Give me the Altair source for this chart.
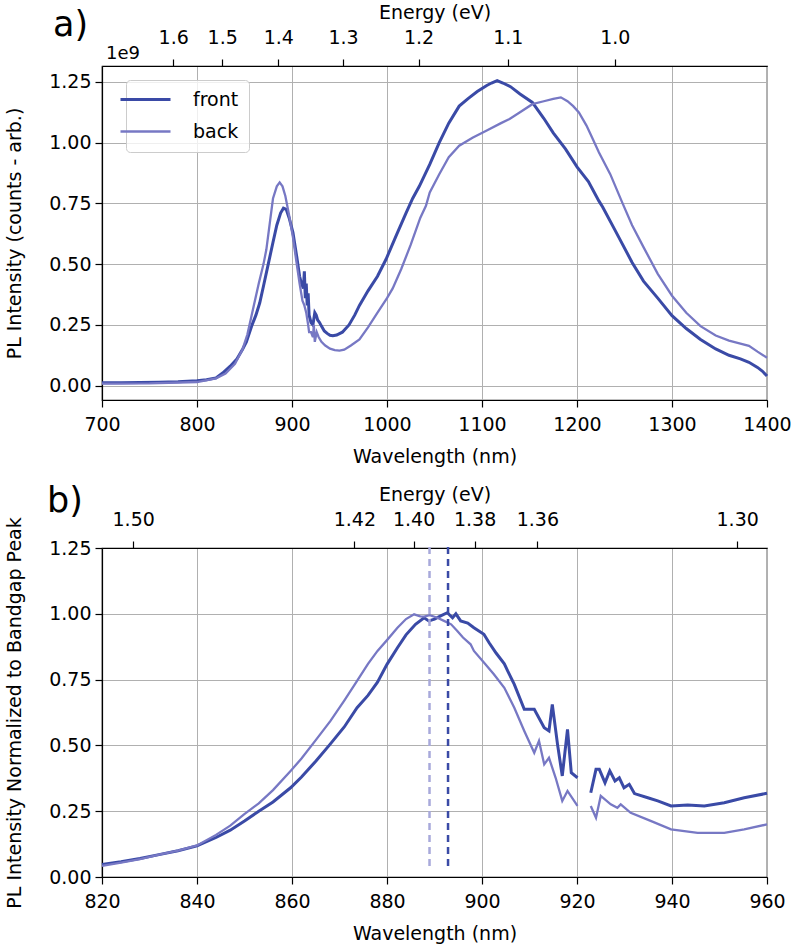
import altair as alt
import pandas as pd

HC = 1239.84  # eV*nm

# ---------------- Panel a (values in units of 1e9 counts) ----------------
a_front_wl = [700, 720, 740, 760, 780, 800, 810, 820, 827, 835, 842, 848, 852, 858, 862, 866, 870, 875,
              880, 884, 888, 891, 894, 897, 901, 905, 908, 910, 912, 913, 914, 915, 916, 917, 918, 920,
              922, 924, 925.5, 927, 929, 931, 934, 937, 940, 943, 947, 953, 960, 966, 971, 980, 990, 999,
              1010, 1020, 1027, 1034, 1045, 1055, 1065, 1076, 1085, 1095, 1105, 1110, 1116, 1122, 1130,
              1140, 1153, 1165, 1175, 1188, 1200, 1212, 1223, 1227, 1240, 1258, 1270, 1285, 1300, 1315,
              1330, 1346, 1360, 1372, 1381, 1390, 1395, 1400]
a_front_val = [0.012, 0.012, 0.013, 0.014, 0.016, 0.020, 0.024, 0.032, 0.052, 0.080, 0.110, 0.150, 0.180,
               0.250, 0.290, 0.340, 0.410, 0.500, 0.590, 0.660, 0.710, 0.730, 0.725, 0.690, 0.630, 0.530,
               0.450, 0.420, 0.400, 0.470, 0.360, 0.420, 0.330, 0.380, 0.290, 0.260, 0.250, 0.300, 0.290,
               0.270, 0.260, 0.245, 0.225, 0.215, 0.207, 0.205, 0.208, 0.220, 0.250, 0.290, 0.330, 0.390,
               0.450, 0.520, 0.620, 0.710, 0.770, 0.820, 0.910, 1.000, 1.080, 1.150, 1.180, 1.210, 1.235,
               1.245, 1.255, 1.245, 1.230, 1.200, 1.165, 1.100, 1.040, 0.973, 0.900, 0.840, 0.760, 0.735,
               0.640, 0.507, 0.430, 0.360, 0.288, 0.235, 0.190, 0.151, 0.125, 0.110, 0.096, 0.075, 0.060,
               0.040]

a_back_wl = [700, 750, 800, 820, 830, 840, 848, 853, 859, 865, 870, 873, 877, 880, 884, 887, 890, 893, 897,
             901, 905, 908, 911, 913, 915, 917, 918, 920, 922, 923, 924, 926, 928, 931, 935, 940, 945, 950,
             955, 962, 971, 980, 990, 1000, 1006, 1015, 1025, 1035, 1041, 1045, 1055, 1065, 1076, 1090,
             1105, 1120, 1129, 1140, 1153, 1165, 1175, 1183, 1190, 1196, 1202, 1210, 1216, 1223, 1235,
             1248, 1258, 1270, 1285, 1300, 1315, 1330, 1346, 1360, 1370, 1381, 1390, 1400]
a_back_val = [0.008, 0.009, 0.015, 0.030, 0.050, 0.090, 0.150, 0.210, 0.315, 0.420, 0.500, 0.560, 0.680,
              0.770, 0.820, 0.836, 0.820, 0.780, 0.700, 0.610, 0.500, 0.420, 0.350, 0.330, 0.300, 0.250,
              0.220, 0.220, 0.200, 0.250, 0.180, 0.220, 0.200, 0.180, 0.165, 0.152, 0.146, 0.144, 0.148,
              0.165, 0.190, 0.240, 0.300, 0.360, 0.400, 0.480, 0.580, 0.690, 0.740, 0.795, 0.870, 0.940,
              0.987, 1.020, 1.050, 1.080, 1.097, 1.125, 1.158, 1.170, 1.180, 1.186, 1.170, 1.150, 1.124,
              1.070, 1.020, 0.960, 0.870, 0.750, 0.660, 0.570, 0.460, 0.370, 0.300, 0.245, 0.206, 0.185,
              0.175, 0.164, 0.140, 0.115]

# ---------------- Panel b (normalized to bandgap peak) ----------------
b_front_wl = [820, 824, 828, 832, 836, 840, 844, 847, 850, 853, 856, 859.7, 862, 865, 868, 871, 873.7, 876,
              878, 880, 882.2, 884, 886, 887.8, 888.8, 890, 891.3, 892.7, 893.8, 894.5, 895.5, 897, 898.3,
              900.4, 901.5, 903, 904.7, 905.4, 906.8, 908.9, 911.0, 913.1, 914.1, 914.8, 915.9, 916.9,
              918.0, 918.8, 920.1,
              922.9, 924.0, 924.7, 925.9, 926.9, 928.0, 928.9, 929.9, 931.0, 932.1, 934.9, 937.0, 939.8,
              943.3, 946.8, 951.0, 955.2, 960]
b_front_val = [0.048, 0.058, 0.070, 0.085, 0.100, 0.118, 0.150, 0.178, 0.213, 0.250, 0.285, 0.339, 0.380,
               0.440, 0.504, 0.570, 0.643, 0.690, 0.740, 0.808, 0.871, 0.920, 0.960, 0.985, 0.973, 0.980,
               0.992, 1.004, 0.985, 1.000, 0.973, 0.965, 0.947, 0.922, 0.890, 0.850, 0.810, 0.783, 0.732,
               0.637, 0.637, 0.567, 0.555, 0.656, 0.504, 0.384, 0.561, 0.396, 0.377,
               0.320, 0.409, 0.409, 0.358, 0.403, 0.365, 0.377, 0.339, 0.352, 0.317, 0.301, 0.289, 0.270,
               0.274, 0.270, 0.282, 0.301, 0.318]

b_back_wl = [820, 824, 828, 832, 836, 840, 844, 847, 849.9, 853, 856, 859.7, 862, 865, 868.1, 871, 873.7,
             876, 878, 880, 882.2, 884, 885.7, 887, 887.8, 889, 890.6, 892, 893.5, 894.8, 896, 897.6,
             898.3, 900.4, 902.5, 904.7, 906.8, 908.9, 911.0, 912.0, 913.1, 914.1, 915.5, 916.9, 918.0,
             920.1,
             922.9, 924.0, 925.0, 927.1, 928.5, 929.2, 931.3, 935.5, 939.8, 945.4, 951.0, 955.2, 960]
b_back_val = [0.042, 0.055, 0.068, 0.085, 0.100, 0.120, 0.160, 0.195, 0.238, 0.280, 0.330, 0.403, 0.450,
              0.520, 0.593, 0.670, 0.745, 0.810, 0.859, 0.900, 0.947, 0.980, 0.998, 0.990, 0.989, 0.995,
              0.985, 0.973, 0.960, 0.935, 0.910, 0.884, 0.859, 0.815, 0.770, 0.719, 0.643, 0.555, 0.472,
              0.517, 0.428, 0.453, 0.377, 0.289, 0.327, 0.270,
              0.270, 0.225, 0.308, 0.276, 0.263, 0.276, 0.244, 0.213, 0.181, 0.168, 0.168, 0.181, 0.200]

b_gap_nm = 921.5  # detector gap: no data between the two segments

# Bandgap peak wavelengths (dashed markers)
peak_series = ["front", "back"]
peak_wl = [892.85, 888.95]

# Axis ticks
a_wl_ticks = [700, 800, 900, 1000, 1100, 1200, 1300, 1400]
a_e_ticks = [1.6, 1.5, 1.4, 1.3, 1.2, 1.1, 1.0]
b_wl_ticks = [820, 840, 860, 880, 900, 920, 940, 960]
b_e_ticks = [1.50, 1.42, 1.40, 1.38, 1.36, 1.30]
y_ticks = [0.0, 0.25, 0.5, 0.75, 1.0, 1.25]

FRONT = "#3a4aa6"
BACK = "#7778c4"
BACK_DASH = "#a8a9db"
FONT = "DejaVu Sans"


def make_df(fw, fv, bw, bv, gap=None):
    rows = []
    for s, ws, vs in (("front", fw, fv), ("back", bw, bv)):
        for w, v in zip(ws, vs):
            seg = 0 if (gap is None or w < gap) else 1
            rows.append({"series": s, "wl": w, "val": v, "seg": f"{s}{seg}"})
    return pd.DataFrame(rows)


df_a = make_df(a_front_wl, a_front_val, a_back_wl, a_back_val)
df_b = make_df(b_front_wl, b_front_val, b_back_wl, b_back_val, b_gap_nm)
df_peaks = pd.DataFrame({"series": peak_series, "wl": peak_wl})


def panel(df, xdom, xticks, eticks, efmt, ydom, ytitle, w, h, label, label_x, label_y, offset_text=None,
          peaks=None):
    xs = alt.Scale(domain=xdom, nice=False, zero=False)
    ys = alt.Scale(domain=ydom, nice=False, zero=False)

    def yaxis():
        return alt.Axis(values=y_ticks, format=".2f", title=ytitle, grid=True, titlePadding=24,
                        labelPadding=4, labelFlush=False)

    color = alt.Color("series:N", scale=alt.Scale(domain=["front", "back"], range=[FRONT, BACK]), title=None)
    sw = alt.StrokeWidth("series:N", scale=alt.Scale(domain=["front", "back"], range=[3.0, 2.3]), title=None)
    lines = alt.Chart(df).mark_line().encode(
        x=alt.X("wl:Q", scale=xs, axis=alt.Axis(orient="bottom", values=xticks, title="Wavelength (nm)",
                                                grid=True, format="d", labelPadding=8, titlePadding=13,
                                                labelFlush=False)),
        y=alt.Y("val:Q", scale=ys, axis=yaxis()),
        color=color,
        strokeWidth=sw,
        detail="seg:N",
    )
    top = alt.Chart(df).mark_line(opacity=0).encode(
        x=alt.X("wl:Q", scale=xs, axis=alt.Axis(
            orient="top", values=[HC / e for e in eticks],
            labelExpr=f"format({HC}/datum.value, '{efmt}')",
            title="Energy (eV)", grid=False, labelPadding=12, titlePadding=6, labelFlush=False)),
        y=alt.Y("val:Q", scale=ys, axis=yaxis()),
        detail="seg:N",
    )
    layers = [lines, top]
    if peaks is not None:
        for s, c in (("back", BACK_DASH), ("front", FRONT)):
            layers.append(
                alt.Chart(peaks).transform_filter(alt.datum.series == s)
                .mark_rule(strokeDash=[7, 5], strokeWidth=2.5, color=c)
                .encode(x=alt.X("wl:Q", scale=xs, axis=None),
                        y=alt.Y(datum=0.042, scale=ys, axis=yaxis()),
                        y2=alt.Y2(datum=1.27))
            )
    layers.append(
        alt.Chart(pd.DataFrame({"label": [label]})).mark_text(
            font=FONT, fontSize=35, align="left", baseline="alphabetic", color="black")
        .encode(x=alt.value(label_x), y=alt.value(label_y), text="label:N")
    )
    if offset_text:
        layers.append(
            alt.Chart(pd.DataFrame({"label": [offset_text]})).mark_text(
                font=FONT, fontSize=18, align="left", baseline="alphabetic", color="black")
            .encode(x=alt.value(4), y=alt.value(-7), text="label:N")
        )
    return alt.layer(*layers).resolve_axis(x="independent").properties(width=w, height=h)


pa = panel(df_a, [700, 1400], a_wl_ticks, a_e_ticks, ".1f", [-0.059, 1.315],
           "PL Intensity (counts - arb.)", 665, 334, "a)", -49, -30, offset_text="1e9")
pb = panel(df_b, [820, 960], b_wl_ticks, b_e_ticks, ".2f", [0, 1.25],
           "PL Intensity Normalized to Bandgap Peak", 665, 329, "b)", -55, -36, peaks=df_peaks)

chart = alt.vconcat(pa, pb, spacing=16).properties(
    padding={"left": 5, "top": 2, "right": 5, "bottom": 5}
).configure_view(
    stroke="black", strokeWidth=1.2
).configure_axis(
    labelFont=FONT, labelFontSize=19, labelColor="black",
    titleFont=FONT, titleFontSize=19, titleFontWeight="normal", titleColor="black",
    domainColor="black", domainWidth=1.2, tickColor="black", tickSize=7, tickWidth=1.2,
    gridColor="#b0b0b0", gridWidth=1,
).configure_legend(
    orient="none", legendX=24, legendY=14,
    symbolType="M-4,0H4", symbolSize=156.25,
    labelFont=FONT, labelFontSize=19, labelColor="black", labelOffset=38,
    padding=10, rowPadding=12,
    strokeColor="#cccccc", fillColor="rgba(255,255,255,0.8)", cornerRadius=4,
)

chart.save("out.html", embed_options={"renderer": "svg", "actions": False})
